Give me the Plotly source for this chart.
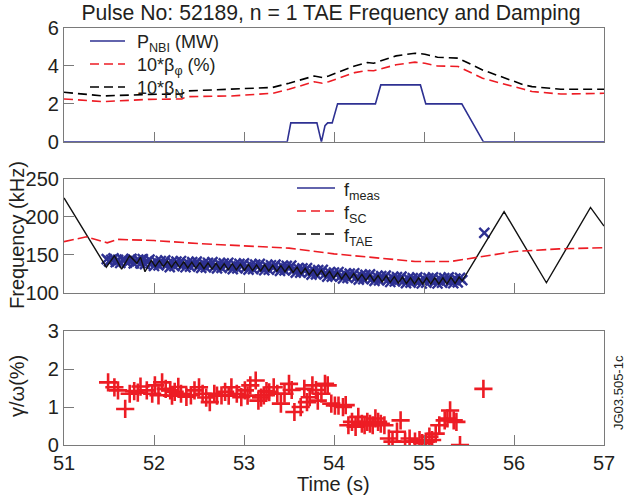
import plotly.graph_objects as go
from plotly.subplots import make_subplots

# ---------------- data ----------------
# Top panel
t_nbi = [51.0, 53.48, 53.52, 53.81, 53.86, 53.90, 53.93, 53.98, 54.04, 54.46, 54.52, 54.96, 55.02, 55.42, 55.66, 57.0]
p_nbi = [0, 0, 1.0, 1.0, 0, 0.85, 1.0, 1.0, 2.0, 2.0, 3.0, 3.0, 2.0, 2.0, 0, 0]

t_beta = [51.0, 51.44, 51.95, 52.31, 52.36, 52.86, 53.32, 53.5, 53.78, 53.87, 53.94, 54.23,
          54.37, 54.44, 54.69, 54.9, 55.01, 55.15, 55.38, 55.65, 56.11, 56.2, 56.52, 57.0]
beta_phi = [2.26, 2.12, 2.24, 2.26, 2.38, 2.42, 2.56, 2.77, 3.17, 3.09, 3.17, 3.65,
            3.76, 3.75, 4.06, 4.2, 4.14, 4.0, 3.97, 3.35, 2.77, 2.65, 2.52, 2.56]
beta_n = [2.61, 2.42, 2.5, 2.52, 2.68, 2.77, 2.87, 3.09, 3.47, 3.39, 3.47, 4.0,
          4.18, 4.14, 4.53, 4.67, 4.62, 4.46, 4.41, 3.79, 3.0, 2.91, 2.77, 2.77]

# Middle panel
t_sc = [51.0, 51.25, 51.48, 51.6, 52.0, 52.5, 53.0, 53.5, 54.0, 54.5, 54.9, 55.3, 55.6, 56.0, 56.5, 57.0]
f_sc = [167.5, 174, 166, 170.5, 169, 165, 162, 159, 151.5, 146, 141.5, 141.5, 147, 154.5, 158, 159.5]

t_tae = [51.0, 51.47, 51.56, 51.64, 51.73, 51.81, 51.85, 51.90,
         51.97, 52.015, 52.06, 52.105, 52.15, 52.195, 52.24, 52.285, 52.33, 52.375,
         52.42, 52.465, 52.51, 52.555, 52.6, 52.645, 52.69, 52.735, 52.78, 52.825,
         52.87, 52.915, 52.96, 53.005, 53.05, 53.095, 53.14, 53.185, 53.23, 53.275,
         53.32, 53.365, 53.41, 53.455, 53.5, 53.545, 53.59, 53.635, 53.68, 53.725,
         53.77, 53.815, 53.86, 53.905, 53.95, 53.995, 54.04, 54.085, 54.13, 54.175,
         54.22, 54.265, 54.31, 54.355, 54.4, 54.445, 54.49, 54.535, 54.58, 54.625,
         54.67, 54.715, 54.76, 54.805, 54.85, 54.895, 54.94, 54.985, 55.03, 55.075,
         55.12, 55.165, 55.21, 55.255, 55.3, 55.345, 55.39, 55.425,
         55.89, 56.36, 56.85, 57.0]
f_tae = [225.0, 134.0, 149.0, 131.5, 149.0, 139.0, 147.0, 128.0,
         143.0, 135.0, 142.5, 134.5, 142.0, 134.0, 141.5, 133.5, 141.0, 133.0,
         140.5, 132.5, 140.0, 132.0, 139.5, 131.5, 139.0, 131.0, 138.5, 130.5,
         138.5, 130.5, 138.0, 130.0, 137.5, 129.5, 137.0, 129.0, 137.0, 129.0,
         136.5, 128.5, 136.0, 128.0, 135.5, 127.0, 134.0, 125.0, 132.5, 124.0,
         131.0, 122.5, 130.0, 121.5, 128.5, 119.5, 127.0, 118.5, 126.0, 118.0,
         125.5, 117.0, 124.5, 116.5, 124.0, 115.5, 123.0, 114.5, 122.5, 114.0,
         121.5, 113.0, 121.0, 112.5, 120.0, 112.0, 120.0, 112.0, 120.0, 112.0,
         120.0, 112.0, 120.0, 112.0, 120.5, 112.5, 121.0, 116.0,
         207.0, 113.5, 212.5, 188.0]

t_meas = [51.475, 51.5, 51.525, 51.55, 51.575, 51.6, 51.625, 51.65,
          51.675, 51.7, 51.725, 51.75, 51.775, 51.8, 51.825, 51.85,
          51.875, 51.9, 51.925, 51.95, 51.975, 52.0, 52.025, 52.05,
          52.075, 52.1, 52.125, 52.15, 52.175, 52.2, 52.225, 52.25,
          52.275, 52.3, 52.325, 52.35, 52.375, 52.4, 52.425, 52.45,
          52.475, 52.5, 52.525, 52.55, 52.575, 52.6, 52.625, 52.65,
          52.675, 52.7, 52.725, 52.75, 52.775, 52.8, 52.825, 52.85,
          52.875, 52.9, 52.925, 52.95, 52.975, 53.0, 53.025, 53.05,
          53.075, 53.1, 53.125, 53.15, 53.175, 53.2, 53.225, 53.25,
          53.275, 53.3, 53.325, 53.35, 53.375, 53.4, 53.425, 53.45,
          53.475, 53.5, 53.525, 53.55, 53.575, 53.6, 53.625, 53.65,
          53.675, 53.7, 53.725, 53.75, 53.775, 53.8, 53.825, 53.85,
          53.875, 53.9, 53.925, 53.95, 53.975, 54.0, 54.025, 54.05,
          54.075, 54.1, 54.125, 54.15, 54.175, 54.2, 54.225, 54.25,
          54.275, 54.3, 54.325, 54.35, 54.375, 54.4, 54.425, 54.45,
          54.475, 54.5, 54.525, 54.55, 54.575, 54.6, 54.625, 54.65,
          54.675, 54.7, 54.725, 54.75, 54.775, 54.8, 54.825, 54.85,
          54.875, 54.9, 54.925, 54.95, 54.975, 55.0, 55.025, 55.05,
          55.075, 55.1, 55.125, 55.15, 55.175, 55.2, 55.225, 55.25,
          55.275, 55.3, 55.325, 55.35, 55.375, 55.4, 55.425, 55.67]
f_meas = [144.5, 141.5, 143.5, 145.5, 140.5, 143.5, 139.5, 143.5,
          144.0, 140.0, 142.0, 145.0, 139.0, 142.0, 144.0, 139.0,
          144.5, 138.0, 141.5, 144.0, 138.8, 135.5, 141.4, 136.3,
          142.1, 139.0, 143.0, 138.0, 134.1, 140.5, 135.4, 141.3,
          138.2, 142.1, 137.0, 133.9, 139.8, 134.6, 140.5, 137.3,
          141.2, 136.1, 133.0, 138.9, 133.8, 139.7, 136.6, 140.5,
          135.4, 132.3, 138.2, 133.1, 139.0, 135.9, 139.8, 134.6,
          131.5, 137.4, 132.3, 138.2, 135.1, 139.0, 134.0, 130.8,
          136.6, 131.5, 137.4, 134.3, 138.2, 133.1, 129.9, 135.8,
          130.6, 136.5, 133.4, 137.3, 132.2, 129.1, 135.0, 129.8,
          135.6, 132.5, 135.9, 130.4, 126.9, 132.4, 126.9, 132.5,
          129.1, 132.8, 127.4, 124.1, 129.7, 124.4, 130.0, 126.7,
          130.3, 125.0, 121.5, 127.0, 121.5, 127.0, 123.8, 127.6,
          122.3, 119.1, 124.9, 119.7, 125.4, 122.2, 126.0, 120.8,
          117.5, 123.3, 118.1, 123.9, 120.6, 124.4, 119.2, 116.0,
          121.7, 116.5, 122.3, 119.1, 122.9, 117.7, 114.5, 120.3,
          115.1, 120.9, 117.7, 121.5, 116.3, 113.1, 118.9, 113.7,
          119.5, 116.5, 120.5, 115.5, 112.5, 118.5, 113.5, 119.5,
          116.5, 120.5, 115.5, 112.5, 118.5, 113.5, 119.5, 116.5,
          120.6, 115.7, 112.8, 118.9, 113.9, 120.0, 117.0, 179.0]

# Bottom panel
t_gam = [51.49, 51.56, 51.60, 51.68, 51.73, 51.78, 51.82, 51.85, 51.92, 51.98,
         52.01, 52.05, 52.09, 52.13, 52.18, 52.20, 52.23, 52.27, 52.30, 52.36,
         52.41, 52.45, 52.50, 52.54, 52.58, 52.62, 52.67, 52.70, 52.75, 52.79,
         52.83, 52.86, 52.92, 52.97, 53.01, 53.04, 53.07, 53.13, 53.16, 53.19,
         53.22, 53.25, 53.28, 53.33, 53.37, 53.41, 53.45, 53.50, 53.53, 53.56,
         53.63, 53.67, 53.70, 53.73, 53.76, 53.80, 53.82, 53.86, 53.90, 53.93,
         53.97, 54.01, 54.05, 54.10, 54.13, 54.16, 54.20, 54.24, 54.27, 54.31,
         54.34, 54.37, 54.40, 54.43, 54.46, 54.49, 54.52, 54.56, 54.61, 54.65,
         54.70, 54.74, 54.79, 54.84, 54.90, 54.95, 54.98, 55.02, 55.06, 55.09,
         55.13, 55.17, 55.23, 55.26, 55.29, 55.33, 55.36, 55.40, 55.66]
gam = [1.65, 1.52, 1.44, 0.95, 1.35, 1.42, 1.38, 1.54, 1.44, 1.35,
       1.57, 1.31, 1.65, 1.48, 1.44, 1.30, 1.40, 1.53, 1.35, 1.27,
       1.31, 1.44, 1.52, 1.35, 1.25, 1.13, 1.35, 1.30, 1.31, 1.40,
       1.30, 1.52, 1.35, 1.26, 1.44, 1.30, 1.57, 1.70, 1.17, 1.25,
       1.31, 1.42, 1.39, 1.52, 1.35, 1.09, 1.35, 1.61, 1.45, 0.87,
       1.00, 1.48, 1.13, 1.26, 1.57, 1.45, 1.17, 1.35, 1.61, 1.57,
       1.09, 1.04, 1.04, 1.00, 1.05, 0.52, 0.61, 0.48, 0.74, 0.56,
       0.52, 0.61, 0.56, 0.52, 0.70, 0.61, 0.56, 0.52, 0.17, 0.09,
       0.35, 0.65, 0.09, 0.17, 0.09, 0.13, 0.05, 0.09, 0.22, 0.13,
       0.30, 0.52, 0.65, 0.70, 0.91, 0.65, 0.61, 0.00, 1.48]

x_ticks = [51, 52, 53, 54, 55, 56, 57]

# legend texts
top_labels = ["P<sub>NBI</sub> (MW)", "10*β<sub>φ</sub> (%)", "10*β<sub>N</sub>"]
mid_labels = ["f<sub>meas</sub>", "f<sub>SC</sub>", "f<sub>TAE</sub>"]

# ---------------- styling ----------------
FONT = "Liberation Sans, Arial, Helvetica, sans-serif"
TXT = "#231f20"
AX = "#7a7a7a"
BLUE = "#2e3192"
RED = "#ed1c24"
DASH = "9px,5px"

# layout geometry (pixels) -> paper coordinates
L, R, T, B, W, H = 64, 29, 28, 55, 633, 500
PW, PH = W - L - R, H - T - B


def px_x(px):
    return (px - L) / PW


def px_y(py):
    return (H - B - py) / PH


fig = make_subplots(rows=3, cols=1, shared_xaxes=False, vertical_spacing=0.0)

# top
fig.add_trace(go.Scatter(x=t_nbi, y=p_nbi, mode="lines", line=dict(color=BLUE, width=1.6),
                         showlegend=False), row=1, col=1)
fig.add_trace(go.Scatter(x=t_beta, y=beta_phi, mode="lines", line=dict(color=RED, width=1.6, dash=DASH),
                         showlegend=False), row=1, col=1)
fig.add_trace(go.Scatter(x=t_beta, y=beta_n, mode="lines", line=dict(color="black", width=1.6, dash=DASH),
                         showlegend=False), row=1, col=1)

# middle
fig.add_trace(go.Scatter(x=t_meas, y=f_meas, mode="markers",
                         marker=dict(symbol="x-thin", size=10, line=dict(color=BLUE, width=2.4), color=BLUE),
                         showlegend=False), row=2, col=1)
fig.add_trace(go.Scatter(x=t_tae, y=f_tae, mode="lines", line=dict(color="#111111", width=1.4),
                         showlegend=False), row=2, col=1)
fig.add_trace(go.Scatter(x=t_sc, y=f_sc, mode="lines", line=dict(color=RED, width=1.6, dash="10px,4px"),
                         showlegend=False), row=2, col=1)

# bottom
fig.add_trace(go.Scatter(x=t_gam, y=gam, mode="markers",
                         marker=dict(symbol="cross-thin", size=13, line=dict(color=RED, width=2.6), color=RED),
                         showlegend=False), row=3, col=1)

xcommon = dict(range=[51, 57], tickvals=x_ticks, ticks="inside", ticklen=10, tickwidth=1.2,
               tickcolor=AX, showline=True, linecolor=AX, linewidth=1.2, mirror=True,
               showgrid=False, zeroline=False)
ycommon = dict(ticks="inside", ticklen=10, tickwidth=1.2, tickcolor=AX, showline=True,
               linecolor=AX, linewidth=1.2, mirror=True, showgrid=False, zeroline=False,
               tickfont=dict(size=20, color=TXT, family=FONT))

fig.update_layout(
    xaxis=dict(xcommon, showticklabels=False),
    xaxis2=dict(xcommon, showticklabels=False),
    xaxis3=dict(xcommon, showticklabels=True, tickfont=dict(size=20, color=TXT, family=FONT)),
    yaxis=dict(ycommon, range=[0, 6], tickvals=[0, 2, 4, 6], domain=[0.727, 1.0]),
    yaxis2=dict(ycommon, range=[100, 250], tickvals=[100, 150, 200, 250], domain=[0.3645, 0.638]),
    yaxis3=dict(ycommon, range=[0, 3], tickvals=[0, 1, 2, 3], domain=[0.0, 0.273]),
)

# manual legends (line keys + texts)
shapes = []
annotations = []
top_rows = [41, 64, 87]
top_styles = [dict(color=BLUE, width=1.6), dict(color=RED, width=1.6, dash=DASH),
              dict(color="black", width=1.6, dash=DASH)]
for py, st, lab in zip(top_rows, top_styles, top_labels):
    shapes.append(dict(type="line", xref="paper", yref="paper", x0=px_x(90), x1=px_x(125),
                       y0=px_y(py), y1=px_y(py), line=st))
    annotations.append(dict(text=lab, xref="paper", yref="paper", x=px_x(135), y=px_y(py + 3),
                            xanchor="left", yanchor="middle", showarrow=False,
                            font=dict(size=18, color=TXT, family=FONT)))
mid_rows = [188, 211, 234]
mid_styles = [dict(color=BLUE, width=1.6), dict(color=RED, width=1.6, dash=DASH),
              dict(color="black", width=1.6, dash=DASH)]
for py, st, lab in zip(mid_rows, mid_styles, mid_labels):
    shapes.append(dict(type="line", xref="paper", yref="paper", x0=px_x(297), x1=px_x(335),
                       y0=px_y(py), y1=px_y(py), line=st))
    annotations.append(dict(text=lab, xref="paper", yref="paper", x=px_x(342), y=px_y(py + 3),
                            xanchor="left", yanchor="middle", showarrow=False,
                            font=dict(size=18, color=TXT, family=FONT)))

# axis titles
annotations.append(dict(text="Frequency (kHz)", textangle=-90, xref="paper", yref="paper",
                        x=px_x(17), y=px_y(235), xanchor="center", yanchor="middle", showarrow=False,
                        font=dict(size=20, color=TXT, family=FONT)))
annotations.append(dict(text="γ/ω(%)", textangle=-90, xref="paper", yref="paper",
                        x=px_x(17), y=px_y(386), xanchor="center", yanchor="middle", showarrow=False,
                        font=dict(size=20, color=TXT, family=FONT)))
annotations.append(dict(text="Time (s)", xref="paper", yref="paper",
                        x=px_x(333), y=px_y(484), xanchor="center", yanchor="middle", showarrow=False,
                        font=dict(size=20, color=TXT, family=FONT)))

annotations.append(dict(text="JG03.505-1c", textangle=-90, xref="paper", yref="paper",
                        x=px_x(618), y=px_y(393), xanchor="center", yanchor="middle", showarrow=False,
                        font=dict(size=13, color=TXT, family=FONT)))

fig.update_layout(
    width=W, height=H,
    margin=dict(l=L, r=R, t=T, b=B),
    paper_bgcolor="white", plot_bgcolor="white",
    font=dict(family=FONT, color=TXT),
    showlegend=False,
    title=dict(text="Pulse No: 52189, n = 1 TAE Frequency and Damping",
               font=dict(size=21.2, color=TXT, family=FONT),
               x=331 / W, xanchor="center", y=1 - 13 / H, yanchor="middle",
               xref="container", yref="container"),
    shapes=shapes,
    annotations=annotations,
)

fig.write_html("out.html", config={"displayModeBar": False},
               post_script="document.body.style.margin='0px';document.body.style.overflow='hidden';")
